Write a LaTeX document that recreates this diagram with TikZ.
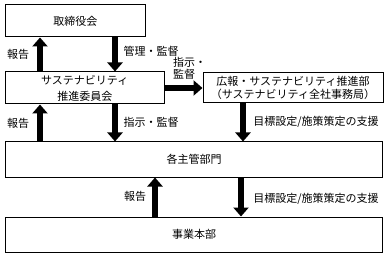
\documentclass[tikz,border=0pt]{standalone}
\usepackage{fontspec}
\setmainfont{Noto Sans CJK JP}
\usetikzlibrary{arrows.meta}
\tikzstyle{unit} = [draw, line width=1pt, inner sep=0pt, align=center, font=\fontsize{11}{16}\selectfont]
\tikzstyle{lbl} = [inner sep=0pt, font=\fontsize{11}{12}\selectfont]
\tikzstyle{flow} = [line width=5.5pt, -{Triangle[width=15pt,length=9pt]}]

\begin{document}
\begin{tikzpicture}[x=1pt,y=-1pt]
\useasboundingbox (0,0) rectangle (387,256);

% boxes
\node[unit, minimum width=139.5pt, minimum height=32pt] (board) at (75.25,21) {取締役会};
\node[unit, minimum width=158.5pt, minimum height=32pt] (comm) at (84.75,88) {サステナビリティ\\推進委員会};
\node[unit, minimum width=180pt, minimum height=30pt, font=\fontsize{11}{13}\selectfont] (pr) at (293,88) {広報・サステナビリティ推進部\\（サステナビリティ全社事務局）};
\node[unit, minimum width=377pt, minimum height=35pt] (dept) at (194,159.5) {各主管部門};
\node[unit, minimum width=377pt, minimum height=35pt] (biz) at (194,234.5) {事業本部};

% arrow columns
\coordinate (rep) at (40,0);
\coordinate (sup) at (115,0);
\coordinate (aid) at (243,0);
\coordinate (bizrep) at (155,0);
\coordinate (bizaid) at (241,0);

\draw[flow] (comm.north -| rep) -- (board.south -| rep);
\draw[flow] (board.south -| sup) -- (comm.north -| sup);
\draw[flow] (comm.east) -- (pr.west);
\draw[flow] (dept.north -| rep) -- (comm.south -| rep);
\draw[flow] (comm.south -| sup) -- (dept.north -| sup);
\draw[flow] (pr.south -| aid) -- (dept.north -| aid);
\draw[flow] (biz.north -| bizrep) -- (dept.south -| bizrep);
\draw[flow] (dept.south -| bizaid) -- (biz.north -| bizaid);

% labels
\node[lbl] (rep1) at (18,54) {報告};
\node[lbl] (mng) at (151,51) {管理・監督};
\node[lbl, align=left, anchor=west] (ins1) at (173,68) {指示・\\監督};
\node[lbl] (rep2) at (18,123) {報告};
\node[lbl] (ins2) at (151,122) {指示・監督};
\node[lbl] (aid1) at (316,122) {目標設定/施策策定の支援};
\node[lbl] (rep3) at (135,196) {報告};
\node[lbl] (aid2) at (316,199) {目標設定/施策策定の支援};
\end{tikzpicture}
\end{document}
